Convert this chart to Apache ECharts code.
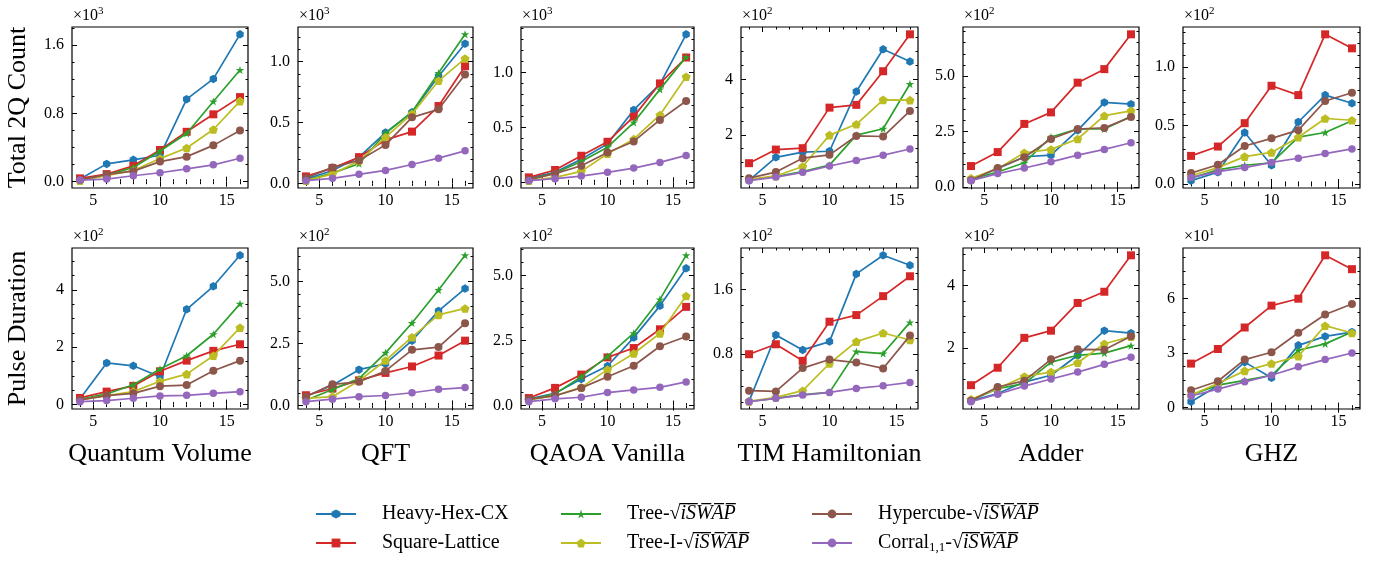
<!DOCTYPE html>
<html><head><meta charset="utf-8">
<script src="https://cdn.jsdelivr.net/npm/echarts@6/dist/echarts.min.js"></script>
<style>html,body{margin:0;padding:0;background:#fff}#c{width:1385px;height:563px}</style>
</head><body><div id="c"></div><script>
// ---------------- data ----------------
const xs = [4, 6, 8, 10, 12, 14, 16];
const seriesNames = ['Heavy-Hex-CX', 'Square-Lattice', 'Tree-√iSWAP', 'Tree-I-√iSWAP', 'Hypercube-√iSWAP', 'Corral-√iSWAP'];
const columnTitles = ['Quantum Volume', 'QFT', 'QAOA Vanilla', 'TIM Hamiltonian', 'Adder', 'GHZ'];
const rowTitles = ['Total 2Q Count', 'Pulse Duration'];
const xTicks = [5, 10, 15];
const xTickLabels = ['5', '10', '15'];

// Total 2Q count (rows: Heavy-Hex, Square, Tree, Tree-I, Hypercube, Corral)
const qv2q = [
  [31, 209, 256, 310, 968, 1205, 1728],
  [39, 89, 186, 372, 585, 790, 992],
  [19, 77, 167, 360, 566, 941, 1309],
  [12, 70, 132, 271, 395, 612, 945],
  [19, 85, 124, 236, 294, 426, 600],
  [19, 31, 70, 105, 151, 198, 275]
];
const qft2q = [
  [35, 106, 215, 417, 583, 880, 1147],
  [57, 125, 215, 357, 425, 635, 962],
  [25, 84, 161, 411, 586, 907, 1224],
  [22, 76, 183, 379, 570, 842, 1025],
  [44, 131, 188, 316, 542, 608, 894],
  [22, 41, 74, 106, 155, 207, 267]
];
const qaoa2q = [
  [39, 91, 211, 350, 659, 894, 1347],
  [45, 112, 242, 369, 598, 900, 1136],
  [24, 85, 190, 320, 544, 846, 1142],
  [15, 45, 100, 260, 393, 613, 961],
  [24, 79, 151, 272, 372, 568, 740],
  [15, 33, 57, 91, 130, 181, 245]
];
const tim2q = [
  [36, 119, 138, 141, 356, 508, 464],
  [98, 147, 152, 298, 308, 429, 562],
  [38, 50, 68, 91, 199, 222, 383],
  [40, 52, 86, 199, 238, 326, 325],
  [44, 66, 116, 128, 196, 194, 286],
  [35, 48, 65, 88, 108, 127, 149]
];
const adder2q = [
  [34, 82, 136, 143, 255, 381, 373],
  [94, 157, 284, 336, 470, 531, 688],
  [34, 67, 109, 225, 261, 261, 318],
  [39, 82, 154, 169, 216, 321, 343],
  [30, 85, 134, 216, 261, 266, 315],
  [28, 60, 85, 113, 143, 169, 199]
];
const ghz2q = [
  [2.8, 10, 44, 16, 53, 76, 69],
  [24, 32, 52, 84, 76, 128, 116],
  [5, 12, 16, 18, 40, 44, 54],
  [7, 14, 23.4, 27, 40, 56, 54.5],
  [9.3, 16.4, 32.5, 39, 46, 71, 78],
  [5.6, 10.5, 14, 18.4, 22, 26, 30]
];
// Pulse duration
const qvPulse = [
  [20, 145, 135, 97, 332, 412, 520],
  [23, 45, 65, 116, 153, 187, 210],
  [18, 37, 69, 124, 170, 245, 351],
  [16, 31, 45, 81, 106, 170, 268],
  [16, 31, 39, 64, 68, 118, 153],
  [10, 14, 22, 30, 32, 39, 45]
];
const qftPulse = [
  [37, 81, 144, 168, 261, 381, 471],
  [41, 68, 101, 131, 157, 201, 261],
  [21, 64, 108, 212, 332, 465, 605],
  [28, 35, 99, 181, 275, 365, 391],
  [35, 85, 95, 139, 224, 235, 331],
  [15, 25, 35, 40, 51, 65, 72]
];
const qaoaPulse = [
  [26, 47, 102, 152, 261, 383, 527],
  [29, 68, 119, 185, 221, 293, 379],
  [22, 45, 111, 189, 278, 408, 577],
  [22, 38, 70, 138, 200, 277, 421],
  [24, 38, 68, 111, 153, 228, 265],
  [15, 26, 32, 50, 60, 70, 91]
];
const timPulse = [
  [21.7, 103.8, 85.3, 95.6, 179.3, 202.3, 190],
  [80, 92.3, 71.8, 120.2, 128.4, 151.8, 176.4],
  [21.5, 25.5, 30, 32.8, 83.3, 80.8, 119.4],
  [21.7, 26.7, 34.9, 68.5, 95.6, 106.3, 97.6],
  [34.9, 34, 62.8, 73.4, 69.7, 62.4, 103],
  [21.3, 25.4, 29.5, 32.8, 37.7, 41, 45.1]
];
const adderPulse = [
  [30, 53, 90, 112, 176, 255, 247],
  [80, 136, 232, 255, 344, 380, 497],
  [32, 69, 85, 154, 176, 183, 207],
  [35, 69, 108, 122, 152, 213, 236],
  [30, 74, 94, 163, 195, 194, 237],
  [27, 51, 77, 100, 122, 147, 170]
];
const ghzPulse = [
  [3.3, 12, 25, 16.4, 34.2, 39.1, 41.5],
  [24.2, 32.2, 44, 56, 59.8, 83.6, 76],
  [7, 12.4, 15, 17.8, 31.5, 35, 41.5],
  [7, 13.3, 20.2, 24.2, 28.2, 45, 41],
  [9.6, 14.5, 26.4, 30.4, 41.1, 51.1, 56.9],
  [6.4, 10.2, 14.2, 17.8, 22.4, 26.4, 30]
];

// y tick values / labels / offset exponent / minor step per panel
const panelData = [qv2q, qft2q, qaoa2q, tim2q, adder2q, ghz2q, qvPulse, qftPulse, qaoaPulse, timPulse, adderPulse, ghzPulse];
const yTicks = [
  [0, 800, 1600], [0, 500, 1000], [0, 500, 1000], [200, 400], [0, 250, 500], [0, 50, 100],
  [0, 200, 400], [0, 250, 500], [0, 250, 500], [80, 160], [200, 400], [0, 30, 60]
];
const yTickLabels = [
  ['0.0', '0.8', '1.6'], ['0.0', '0.5', '1.0'], ['0.0', '0.5', '1.0'], ['2', '4'], ['0.0', '2.5', '5.0'], ['0.0', '0.5', '1.0'],
  ['0', '2', '4'], ['0.0', '2.5', '5.0'], ['0.0', '2.5', '5.0'], ['0.8', '1.6'], ['2', '4'], ['0', '3', '6']
];
const yExponents = ['3', '3', '3', '2', '2', '2', '2', '2', '2', '2', '2', '1'];
const yMinorSteps = [200, 100, 100, 50, 50, 10, 50, 50, 50, 20, 50, 7.5];
const xMinorStep = 1;

// ---------------- styles ----------------
const FONT = 'Liberation Serif';
const colors = ['#1f77b4', '#d62728', '#2ca02c', '#bcbd22', '#8c564b', '#9467bd'];
const HEX = 'path://M0,-1L0.866,-0.5L0.866,0.5L0,1L-0.866,0.5L-0.866,-0.5Z';
const PENT = 'path://M0,-1L0.951,-0.309L0.588,0.809L-0.588,0.809L-0.951,-0.309Z';
const STAR = 'path://M0,-1L0.2245,-0.309L0.951,-0.309L0.363,0.118L0.588,0.809L0,0.382L-0.588,0.809L-0.363,0.118L-0.951,-0.309L-0.2245,-0.309Z';
const symbols = [HEX, 'rect', STAR, PENT, 'circle', 'circle'];
const symbolSizes = [8.5, 8, 8.5, 9, 8, 7.5];
const gridLeft = [72, 298, 521, 741, 963, 1183];
const gridWidth = [176, 175, 173, 177, 176, 177];
const gridTop = [27, 248];
const gridHeight = 161;

function extent(arr) {
  const lo = Math.min(...arr), hi = Math.max(...arr), r = hi - lo;
  return [lo - 0.05 * r, hi + 0.05 * r];
}
function minorList(lo, hi, step, majors) {
  const out = [];
  for (let k = Math.ceil(lo / step - 1e-9); k * step <= hi + 1e-9; k++) {
    const v = +(k * step).toFixed(6);
    if (!majors.some(m => Math.abs(m - v) < 1e-6)) out.push(v);
  }
  return out;
}

const grids = [], xAxes = [], yAxes = [], series = [];
const [xmin, xmax] = extent(xs);
const xMinors = minorList(xmin, xmax, xMinorStep, xTicks);
const tickLine = { color: '#000', width: 1 };

for (let p = 0; p < 12; p++) {
  const r = Math.floor(p / 6), c = p % 6;
  grids.push({ left: gridLeft[c], top: gridTop[r], width: gridWidth[c], height: gridHeight,
    show: true, borderColor: '#000', borderWidth: 1.2, backgroundColor: 'transparent' });
  const allY = [].concat(...panelData[p]);
  const [ymin, ymax] = extent(allY);
  const yMaj = yTicks[p].filter(v => v >= ymin && v <= ymax);
  const yMin = minorList(ymin, ymax, yMinorSteps[p], yTicks[p]);
  const base = { type: 'value', gridIndex: p, axisLine: { show: false }, splitLine: { show: false } };
  ['bottom', 'top'].forEach(pos => {
    xAxes.push(Object.assign({}, base, { min: xmin, max: xmax, position: pos,
      axisTick: { show: true, inside: true, length: 5, customValues: xTicks, lineStyle: tickLine },
      axisLabel: pos === 'bottom' ? { show: true, customValues: xTicks, margin: 5, color: '#000', fontFamily: FONT, fontSize: 16,
        formatter: v => xTickLabels[xTicks.indexOf(v)] } : { show: false },
      name: (pos === 'bottom' && r === 1) ? columnTitles[c] : '', nameLocation: 'middle', nameGap: 32,
      nameTextStyle: { fontFamily: FONT, fontSize: 26, color: '#000' } }));
    xAxes.push(Object.assign({}, base, { min: xmin, max: xmax, position: pos,
      axisTick: { show: true, inside: true, length: 2.5, customValues: xMinors, lineStyle: tickLine },
      axisLabel: { show: false } }));
  });
  ['left', 'right'].forEach(pos => {
    yAxes.push(Object.assign({}, base, { min: ymin, max: ymax, position: pos,
      axisTick: { show: true, inside: true, length: 5, customValues: yMaj, lineStyle: tickLine },
      axisLabel: pos === 'left' ? { show: true, customValues: yMaj, margin: 8, color: '#000', fontFamily: FONT, fontSize: 16,
        formatter: v => { const i = yTicks[p].findIndex(m => Math.abs(m - v) < 1e-6); return i >= 0 ? yTickLabels[p][i] : ''; } } : { show: false },
      name: (pos === 'left' && c === 0) ? rowTitles[r] : '', nameLocation: 'middle', nameGap: 41, nameRotate: 90,
      nameTextStyle: { fontFamily: FONT, fontSize: 26, color: '#000' } }));
    yAxes.push(Object.assign({}, base, { min: ymin, max: ymax, position: pos,
      axisTick: { show: true, inside: true, length: 2.5, customValues: yMin, lineStyle: tickLine },
      axisLabel: { show: false },
      name: pos === 'left' ? '×10{sup|' + yExponents[p] + '}' : '', nameLocation: 'end', nameGap: 2,
      nameTextStyle: { fontFamily: FONT, fontSize: 16, color: '#000', align: 'left', verticalAlign: 'bottom', padding: [0, 0, 0, 1],
        rich: { sup: { fontFamily: FONT, fontSize: 11, color: '#000', padding: [0, 0, 8, 0] } } } }));
  });
  for (let s = 0; s < 6; s++) {
    series.push({ type: 'line', name: seriesNames[s], xAxisIndex: p * 4, yAxisIndex: p * 4,
      data: xs.map((x, i) => [x, panelData[p][s][i]]),
      symbol: symbols[s], symbolSize: symbolSizes[s], symbolKeepAspect: true, showSymbol: true,
      lineStyle: { color: colors[s], width: 1.7 }, itemStyle: { color: colors[s], opacity: 1 },
      z: 2 + s, silent: true, clip: true });
  }
}

const OV = 'i\u0305S\u0305W\u0305A\u0305P\u0305';
function legendFmt(name) {
  if (name === 'Corral-√iSWAP') return 'Corral{sub|1,1}-√{it|' + OV + '}';
  if (name.indexOf('√iSWAP') >= 0) return name.replace('√iSWAP', '') + '√{it|' + OV + '}';
  return name;
}
const legendText = { fontFamily: FONT, fontSize: 20, color: '#000', padding: [0, 0, 0, 21],
  rich: { it: { fontFamily: FONT, fontSize: 20, fontStyle: 'italic', color: '#000' },
          sub: { fontFamily: FONT, fontSize: 13, color: '#000', padding: [10, 0, 0, 0] } } };
function mkLegend(names, left) {
  return { data: names, left: left, top: 499, orient: 'vertical', itemGap: 9, itemWidth: 40, itemHeight: 11,
    formatter: legendFmt, textStyle: legendText, selectedMode: false };
}

const chart = echarts.init(document.getElementById('c'), null, { renderer: 'canvas' });
chart.setOption({
  backgroundColor: '#fff', animation: false,
  grid: grids, xAxis: xAxes, yAxis: yAxes, series: series,
  legend: [mkLegend(seriesNames.slice(0, 2), 310), mkLegend(seriesNames.slice(2, 4), 555), mkLegend(seriesNames.slice(4, 6), 806)]
});
</script></body></html>
